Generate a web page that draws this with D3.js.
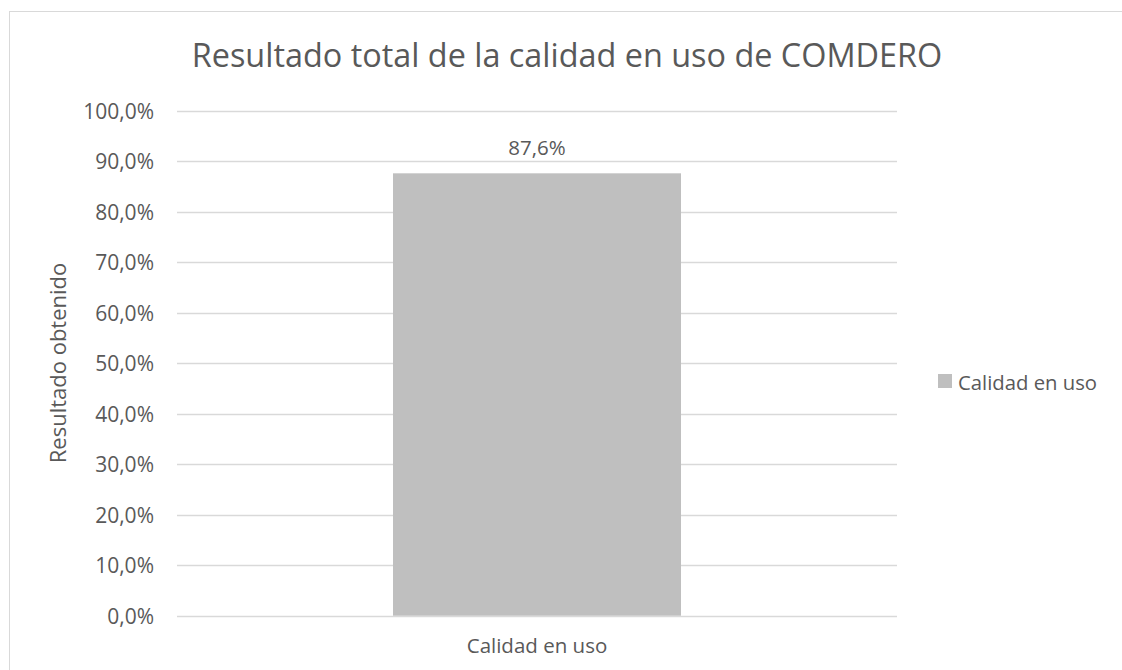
<!DOCTYPE html>
<html><head><meta charset="utf-8">
<script src="https://cdn.jsdelivr.net/npm/d3@7"></script>
<style>body{margin:0;background:#fff}svg{display:block;font-family:"Open Sans",sans-serif}</style>
</head><body><svg id="c" width="1122" height="670"></svg>
<script>
const title = "Resultado total de la calidad en uso de COMDERO";
const categories = ["Calidad en uso"];
const seriesName = "Calidad en uso";
const values = [0.876];
const yTicks = [0,0.1,0.2,0.3,0.4,0.5,0.6,0.7,0.8,0.9,1.0];
const yTitle = "Resultado obtenido";

const svg = d3.select("#c");
const textColor = "#595959";
const fmt = v => (v*100).toFixed(1).replace(".", ",") + "%";

svg.append("rect").attr("x",9.5).attr("y",11.5).attr("width",1122).attr("height",670)
  .attr("fill","#fff").attr("stroke","#d9d9d9").attr("stroke-width",1);

const x0 = 177, x1 = 897, yTop = 110.7, yBot = 615.7;
const y = d3.scaleLinear().domain([0,1]).range([yBot,yTop]);
const x = d3.scaleBand().domain(categories).range([x0,x1]).paddingInner(0.6).paddingOuter(0.3);

// gridlines
svg.append("g").selectAll("line").data(yTicks).join("line")
  .attr("x1",x0).attr("x2",x1).attr("y1",d=>Math.round(y(d))+0.5).attr("y2",d=>Math.round(y(d))+0.5)
  .attr("stroke","#d9d9d9").attr("stroke-width",1.3);

// y axis labels
const yAxis = d3.axisLeft(y).tickValues(yTicks).tickFormat(fmt).tickSize(0).tickPadding(0);
const ga = svg.append("g").attr("transform",`translate(154,0)`).call(yAxis);
ga.select(".domain").remove();
ga.selectAll("text").attr("fill",textColor).attr("font-size",21).attr("font-family","Open Sans").attr("dy","0.36em");

// bars
const bw = 288;
svg.append("g").selectAll("rect").data(values).join("rect")
  .attr("x",(d,i)=>x(categories[i]) + x.bandwidth()/2 - bw/2).attr("width",bw)
  .attr("y",d=>y(d)).attr("height",d=>y(0)-y(d)).attr("fill","#bfbfbf");

// data labels
svg.append("g").selectAll("text").data(values).join("text")
  .attr("x",(d,i)=>x(categories[i]) + x.bandwidth()/2).attr("y",d=>y(d)-18)
  .attr("text-anchor","middle").attr("fill",textColor).attr("font-size",20.5).text(fmt);

// x labels
svg.append("g").selectAll("text").data(categories).join("text")
  .attr("x",d=>x(d)+x.bandwidth()/2).attr("y",653)
  .attr("text-anchor","middle").attr("fill",textColor).attr("font-size",20.5).text(d=>d);

// title
svg.append("text").attr("x",567).attr("y",67).attr("text-anchor","middle")
  .attr("fill",textColor).attr("font-size",32.4).text(title);

// y title
svg.append("text").attr("transform",`translate(66,363) rotate(-90)`).attr("text-anchor","middle")
  .attr("fill",textColor).attr("font-size",22).text(yTitle);

// legend
svg.append("rect").attr("x",938).attr("y",374).attr("width",14).attr("height",14).attr("fill","#bfbfbf");
svg.append("text").attr("x",958).attr("y",390).attr("fill",textColor).attr("font-size",20.3).text(seriesName);
</script></body></html>
